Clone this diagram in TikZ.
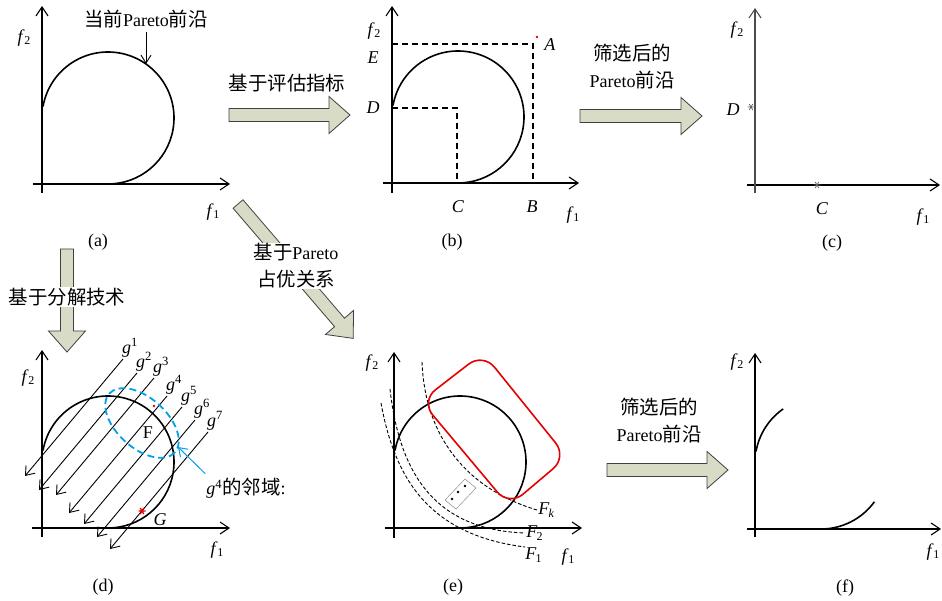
\documentclass[tikz,border=0pt]{standalone}
\usepackage{fontspec}
\setmainfont{Liberation Serif}
\newfontfamily\cjk[Scale=1.08]{Noto Sans CJK SC}
\usetikzlibrary{arrows.meta,calc}
\definecolor{pfarrow}{RGB}{216,220,198}
\definecolor{pfred}{RGB}{228,0,0}
\definecolor{pfblue}{RGB}{0,160,233}
\newcommand{\zh}[1]{{\cjk #1}}
\newcommand{\fx}[1]{\textit{f}\kern-0.5pt\raisebox{-0.3ex}{\fontsize{12}{12}\selectfont #1}}
\newcommand{\Fx}[1]{\textit{F}\kern-1pt\raisebox{-0.4ex}{\fontsize{12}{12}\selectfont #1}}
\tikzset{
  pics/front/.style={code={\draw[curve] (66,-66) ++(-170:66) arc[start angle=-170,end angle=90,radius=66];}},
  pics/fatarrow/.style={code={\draw[fat] (0,-6.5) -- (#1-21,-6.5) -- (#1-21,-18.5) -- (#1,0) -- (#1-21,18.5) -- (#1-21,6.5) -- (0,6.5) -- cycle;}},
  pics/asterisk/.style={code={\draw (-3.5,0) -- (3.5,0) (-1.75,-3) -- (1.75,3) (1.75,-3) -- (-1.75,3);}}
}
\begin{document}
\begin{tikzpicture}[x=1pt,y=-1pt,font=\fontsize{18}{27}\selectfont,
    every node/.style={align=center,inner sep=1pt},
    axis/.style={line width=1.1pt,-{Straight Barb[length=9pt,width=12pt]}},
    curve/.style={line width=1.6pt},
    guide/.style={line width=1.6pt,dash pattern=on 6pt off 4pt},
    gline/.style={line width=0.9pt,-{Straight Barb[length=8pt,width=12pt]}},
    fline/.style={line width=0.9pt,dash pattern=on 3.5pt off 2pt},
    fat/.style={draw=black!75,line width=0.8pt,fill=pfarrow},
    ptr/.style={line width=0.9pt,-{Straight Barb[length=8pt,width=10pt]}}]
  \useasboundingbox (0,0) rectangle (942,601);
  % (a) current front
  \draw[axis] (33,184) -- (230,184);
  \draw[axis] (42,193) -- (42,6);
  \pic at (42,184) {front};
  \node (f2a) at (24,38) {\fx{2}};
  \node (f1a) at (213,212) {\fx{1}};
  \node (cur) at (146,19) {\zh{当前}Pareto\zh{前沿}};
  \coordinate (curtip) at (146,64);
  \draw[ptr] ([yshift=-3pt]cur.south) -- (curtip);
  \node (capa) at (98,242) {(a)};
  % (b) indicator based
  \draw[axis] (383,183) -- (579,183);
  \draw[axis] (392,193) -- (392,6);
  \pic at (392,183) {front};
  \draw[guide] (392,44) -- (533,44) -- (533,183);
  \draw[guide] (392,108) -- (457,108) -- (457,183);
  \fill[pfred] (537,37) circle (1.4);
  \node (A) at (550,45) {\textit{A}};
  \node (E) at (373,58) {\textit{E}};
  \node (D) at (373,108) {\textit{D}};
  \node (C) at (458,207) {\textit{C}};
  \node (B) at (532,207) {\textit{B}};
  \node (f2b) at (374,31) {\fx{2}};
  \node (f1b) at (573,215) {\fx{1}};
  \node (capb) at (452,242) {(b)};
  % (c) selected points
  \draw[axis] (747,185) -- (940,185);
  \draw[axis,black!70] (755,193) -- (755,8);
  \pic[black!60,line width=0.8pt] at (751,107) {asterisk};
  \pic[black!60,line width=0.8pt] at (817,185) {asterisk};
  \node (Dc) at (733,110) {\textit{D}};
  \node (Cc) at (822,209) {\textit{C}};
  \node (f2c) at (737,30) {\fx{2}};
  \node (f1c) at (923,217) {\fx{1}};
  \node (capc) at (832,243) {(c)};
  % (d) decomposition
  \draw[axis] (32,528) -- (230,528);
  \draw[axis] (42,537) -- (42,350);
  \pic at (42,528) {front};
  \foreach \x/\y [count=\k] in {123/359,137/373,154/378,167/396,182/407,195/420,208/432}{
    \coordinate (g\k) at (\x,\y);
    \draw[gline] (g\k) -- ++(-98,117);
    \node[anchor=base west,inner sep=0] at ([shift={(-1,-6)}]g\k) {\textit{g}\textsuperscript{\k}};
  }
  \draw[pfblue,line width=1.8pt,dash pattern=on 7pt off 4pt,shift={(142,423)},rotate=-42] (0,0) ellipse [x radius=44,y radius=25];
  \fill[pfred] (154,406) circle (1.4);
  \node (F) at (148,433) {F};
  \pic[pfred,line width=1.3pt] at (142,511) {asterisk};
  \node (G) at (160,520) {\textit{G}};
  \node (nb) at (246,488) {\textit{g}\textsuperscript{4}\zh{的邻域}:};
  \coordinate (nbtip) at (178,447);
  \draw[pfblue,line width=1pt,-{Straight Barb[length=8pt,width=11pt]}] ([yshift=3pt]nb.north west) -- (nbtip);
  \node (f2d) at (28,378) {\fx{2}};
  \node (f1d) at (217,550) {\fx{1}};
  \node (capd) at (103,587) {(d)};
  % (e) Pareto dominance
  \draw[axis] (385,528) -- (582,528);
  \draw[axis] (394,538) -- (394,352);
  \pic at (394,528) {front};
  \draw[fline] (381,403) .. controls (395,480) and (430,535) .. (525,547) node[below right,inner sep=0] (F1) {\Fx{1}};
  \draw[fline] (390,389) .. controls (400,480) and (440,530) .. (525,533) node[right] (F2) {\Fx{2}};
  \draw[fline] (422,362) .. controls (425,440) and (470,490) .. (537,510) node[right] (Fk) {\Fx{\textit{k}}};
  \draw[pfred,line width=1.6pt,rounded corners=18pt] (421,401) -- (483,353) -- (567,457) -- (509,506) -- cycle;
  \draw[black!45,line width=0.5pt] (445,500) -- (465,479) -- (476,488) -- (456,509) -- cycle;
  \foreach \p in {(452,499),(458,492),(465,486)} \fill \p circle (1.4);
  \node (f2e) at (372,363) {\fx{2}};
  \node (f1e) at (568,557) {\fx{1}};
  \node (cape) at (453,587) {(e)};
  % (f) filtered front
  \draw[axis] (747,529) -- (941,529);
  \draw[axis] (755,537) -- (755,353);
  \draw[curve] (821,463) ++(-170:66) arc[start angle=-170,end angle=-125,radius=66];
  \draw[curve] (821,463) ++(36:66) arc[start angle=36,end angle=90,radius=66];
  \node (f2f) at (737,362) {\fx{2}};
  \node (f1f) at (933,552) {\fx{1}};
  \node (capf) at (845,588) {(f)};
  % block arrows
  \pic at (229,115) {fatarrow=121};
  \pic at (580,116) {fatarrow=122};
  \pic[rotate=-90] at (67,249) {fatarrow=103};
  \pic[rotate=-49.4] at (238,204) {fatarrow=177};
  \pic at (607,470) {fatarrow=121};
  \node (crit) at (287,83) {\zh{基于评估指标}};
  \node[fill=white] (sel1) at (632,67) {\zh{筛选后的}\\Pareto\zh{前沿}};
  \node[fill=white] (dec) at (67,297) {\zh{基于分解技术}};
  \node[fill=white] (dom) at (296,266) {\zh{基于}Pareto\\\zh{占优关系}};
  \node (sel2) at (659,421) {\zh{筛选后的}\\Pareto\zh{前沿}};
\end{tikzpicture}
\end{document}
